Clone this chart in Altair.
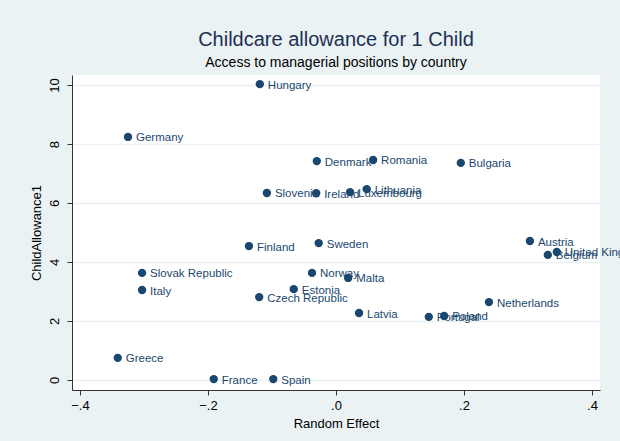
import altair as alt
import pandas as pd

countries = ["Hungary", "Germany", "Denmark", "Romania", "Bulgaria", "Slovenia",
             "Ireland", "Luxembourg", "Lithuania", "Finland", "Sweden", "Austria",
             "Belgium", "United Kingdom", "Slovak Republic", "Italy", "Norway", "Malta",
             "Estonia", "Czech Republic", "Latvia", "Netherlands", "Portugal", "Poland",
             "Greece", "France", "Spain"]
random_effect = [-0.119, -0.325, -0.030, 0.058, 0.195, -0.108,
                 -0.031, 0.022, 0.048, -0.136, -0.027, 0.303,
                 0.331, 0.345, -0.303, -0.303, -0.0375, 0.019,
                 -0.066, -0.120, 0.036, 0.239, 0.145, 0.169,
                 -0.341, -0.191, -0.098]
child_allowance = [10.03, 8.24, 7.42, 7.46, 7.36, 6.34,
                   6.33, 6.37, 6.47, 4.54, 4.64, 4.71,
                   4.24, 4.34, 3.63, 3.05, 3.63, 3.46,
                   3.08, 2.81, 2.27, 2.64, 2.14, 2.17,
                   0.75, 0.03, 0.03]

x_ticks = [-0.4, -0.2, 0, 0.2, 0.4]
y_ticks = [0, 2, 4, 6, 8, 10]

df = pd.DataFrame({"country": countries, "re": random_effect, "ca": child_allowance})

navy = "#1a476f"
font = "Liberation Sans"

x_enc = alt.X("re:Q", title="Random Effect",
              scale=alt.Scale(domain=[-0.4125, 0.4125], nice=False, zero=False),
              axis=alt.Axis(values=x_ticks, grid=False, tickSize=5,
                            labelExpr="replace(format(datum.value, '.1f'), '0.', '.')",
                            labelFontSize=13, titleFontSize=13, titlePadding=5,
                            labelPadding=4))
y_enc = alt.Y("ca:Q", title="ChildAllowance1",
              scale=alt.Scale(domain=[-0.34, 10.34], nice=False, zero=False),
              axis=alt.Axis(values=y_ticks, grid=True, gridColor="#eaf2f3", gridWidth=1.5,
                            tickSize=5, labelAngle=270, labelFontSize=13,
                            titleFontSize=13, titlePadding=5, labelPadding=6))

points = alt.Chart(df).mark_circle(size=70, color=navy, opacity=1).encode(x=x_enc, y=y_enc)
labels = alt.Chart(df).mark_text(align="left", baseline="middle", dx=8, dy=1.5,
                                 fontSize=11.5, color=navy, font=font).encode(
    x="re:Q", y="ca:Q", text="country:N")

chart = alt.layer(points, labels).properties(
    width=528, height=315,
    title=alt.Title("Childcare allowance for 1 Child",
                    subtitle="Access to managerial positions by country",
                    fontSize=20, subtitleFontSize=14, color="#1e2f55",
                    subtitleColor="#000000", font=font, subtitleFont=font,
                    fontWeight="normal", anchor="middle", offset=5, subtitlePadding=6),
    autosize=alt.AutoSizeParams(type="none"),
    padding={"left": 72, "top": 75, "right": 20, "bottom": 51},
    background="#eaf2f3",
).configure_view(fill="white", stroke=None).configure_axis(
    labelFont=font, titleFont=font, labelColor="#000000", titleColor="#000000",
    domainColor="#333333", tickColor="#333333", titleFontWeight="normal"
)

chart.save("out.html", embed_options={"renderer": "svg", "actions": False})
